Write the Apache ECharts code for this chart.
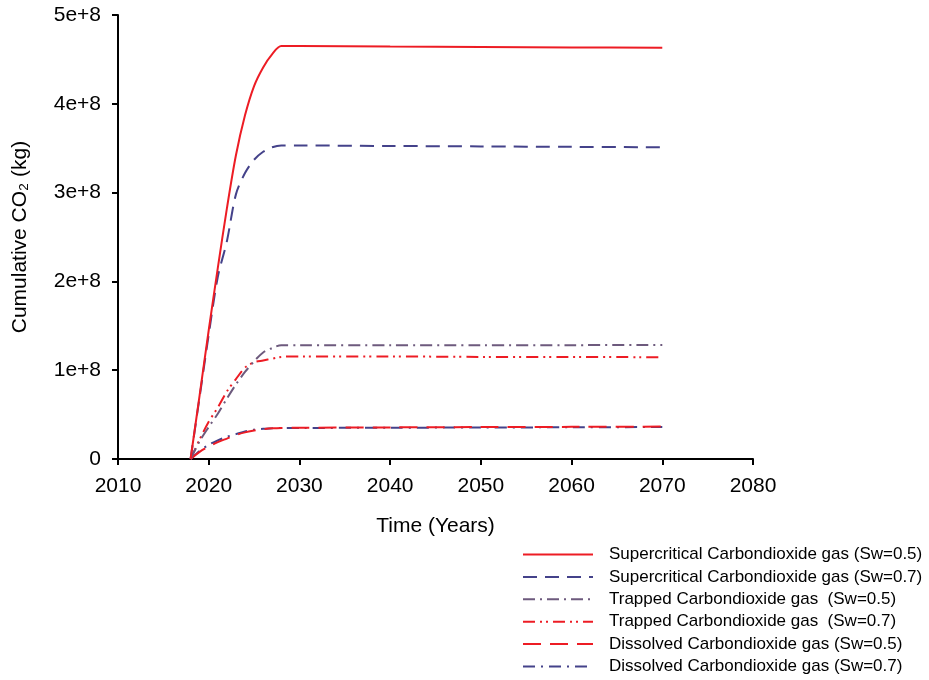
<!DOCTYPE html>
<html>
<head>
<meta charset="utf-8">
<script src="https://cdn.jsdelivr.net/npm/echarts@6/dist/echarts.min.js"></script>
<style>html,body{margin:0;padding:0;background:#fff;}#c{width:929px;height:680px;}</style>
</head>
<body>
<div id="c"></div>
<script>
// Years (x values)
var years = [2018, 2019, 2020, 2021, 2022, 2023, 2024, 2025, 2026, 2027, 2028, 2030, 2040, 2050, 2060, 2070];
// Cumulative CO2 (kg)
var superSw05 = [0, 0.72e8, 1.45e8, 2.15e8, 2.82e8, 3.42e8, 3.87e8, 4.2e8, 4.41e8, 4.56e8, 4.65e8, 4.65e8, 4.645e8, 4.64e8, 4.635e8, 4.63e8];
var superSw07 = [0, 0.7e8, 1.4e8, 2.05e8, 2.45e8, 2.98e8, 3.22e8, 3.37e8, 3.46e8, 3.51e8, 3.53e8, 3.53e8, 3.525e8, 3.52e8, 3.515e8, 3.51e8];
var trappedSw05 = [0, 0.2e8, 0.36e8, 0.51e8, 0.68e8, 0.84e8, 0.98e8, 1.1e8, 1.2e8, 1.25e8, 1.28e8, 1.28e8, 1.28e8, 1.28e8, 1.282e8, 1.285e8];
var trappedSw07 = [0, 0.22e8, 0.42e8, 0.58e8, 0.76e8, 0.9e8, 1.03e8, 1.09e8, 1.11e8, 1.13e8, 1.15e8, 1.155e8, 1.155e8, 1.15e8, 1.15e8, 1.145e8];
var dissolvedSw05 = [0, 0.08e8, 0.14e8, 0.19e8, 0.23e8, 0.27e8, 0.3e8, 0.32e8, 0.335e8, 0.345e8, 0.35e8, 0.352e8, 0.356e8, 0.36e8, 0.362e8, 0.365e8];
var dissolvedSw07 = [0, 0.09e8, 0.16e8, 0.21e8, 0.25e8, 0.28e8, 0.31e8, 0.33e8, 0.34e8, 0.345e8, 0.35e8, 0.35e8, 0.352e8, 0.355e8, 0.357e8, 0.36e8];
var names = [
  'Supercritical Carbondioxide gas (Sw=0.5)',
  'Supercritical Carbondioxide gas (Sw=0.7)',
  'Trapped Carbondioxide gas  (Sw=0.5)',
  'Trapped Carbondioxide gas  (Sw=0.7)',
  'Dissolved Carbondioxide gas (Sw=0.5)',
  'Dissolved Carbondioxide gas (Sw=0.7)'
];
var xTicks = [2010, 2080, 10];
var yTicks = [0, 5e8, 1e8];

var RED = '#ed1c24', NAVY = '#44428a', PURPLE = '#6d5a7d';
var styles = [
  {color: RED, type: 'solid'},
  {color: NAVY, type: [14, 8]},
  {color: PURPLE, type: [12, 5, 2, 5]},
  {color: RED, type: [12, 5, 2, 4, 2, 5]},
  {color: RED, type: [18, 9]},
  {color: NAVY, type: [12, 6, 2, 6]}
];
var datasets = [superSw05, superSw07, trappedSw05, trappedSw07, dissolvedSw05, dissolvedSw07];

function pairs(arr) { return years.map(function (y, i) { return [y, arr[i]]; }); }

var series = datasets.map(function (d, i) {
  return {
    name: names[i],
    type: 'line',
    data: pairs(d),
    showSymbol: false,
    symbol: 'none',
    smooth: 0.3,
    z: 10 - i,
    lineStyle: {color: styles[i].color, type: styles[i].type, width: 2},
    itemStyle: {color: styles[i].color}
  };
});

var font = 'Liberation Sans, Arial, sans-serif';
var chart = echarts.init(document.getElementById('c'), null, {renderer: 'canvas'});
chart.setOption({
  animation: false,
  backgroundColor: '#fff',
  grid: {left: 118, right: 176, top: 15, bottom: 221, containLabel: false},
  xAxis: {
    type: 'value', min: xTicks[0], max: xTicks[1], interval: xTicks[2],
    name: 'Time (Years)', nameLocation: 'middle', nameGap: 57,
    nameTextStyle: {fontSize: 21, color: '#000', fontFamily: font},
    axisLine: {lineStyle: {color: '#000', width: 2}},
    axisTick: {show: true, length: 6, lineStyle: {color: '#000', width: 2}},
    axisLabel: {fontSize: 21, color: '#000', fontFamily: font, margin: 17,
      formatter: function (v) { return String(v); }},
    splitLine: {show: false}
  },
  yAxis: {
    type: 'value', min: yTicks[0], max: yTicks[1], interval: yTicks[2],
    name: 'Cumulative CO\u2082 (kg)', nameLocation: 'middle', nameGap: 87,
    nameTextStyle: {fontSize: 21, color: '#000', fontFamily: font},
    axisLine: {show: true, lineStyle: {color: '#000', width: 2}},
    axisTick: {show: true, length: 6, lineStyle: {color: '#000', width: 2}},
    axisLabel: {fontSize: 21, color: '#000', fontFamily: font, margin: 17,
      formatter: function (v) { return v === 0 ? '0' : (v / 1e8) + 'e+8'; }},
    splitLine: {show: false}
  },
  legend: {
    orient: 'vertical', left: 522, top: 546, height: 160, padding: 0,
    itemWidth: 70, itemHeight: 14, itemGap: 5.4,
    itemStyle: {color: 'transparent', borderWidth: 0, opacity: 0},
    textStyle: {fontSize: 17, color: '#000', fontFamily: font, padding: [0, 0, 0, 11]},
    data: names
  },
  series: series
});
</script>
</body>
</html>
